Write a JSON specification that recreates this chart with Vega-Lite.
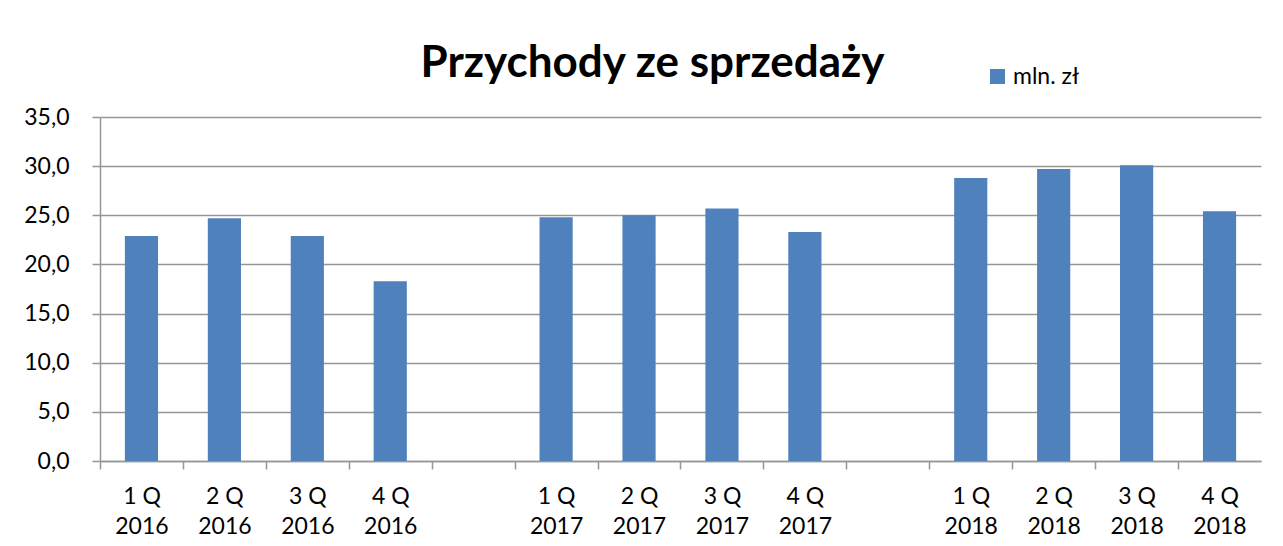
{
  "$schema": "https://vega.github.io/schema/vega-lite/v6.json",
  "width": 1161,
  "height": 344,
  "autosize": {"type": "none"},
  "padding": {"left": 100, "top": 117, "right": 22, "bottom": 85},
  "background": "white",
  "title": {
    "text": "Przychody ze sprzedaży",
    "font": "Lato",
    "fontSize": 44,
    "fontWeight": "bold",
    "color": "black",
    "anchor": "middle",
    "frame": "group",
    "dx": -28,
    "dy": 40,
    "offset": 19
  },
  "data": {
    "values": [
      {"q": "1 Q|2016", "v": 22.9},
      {"q": "2 Q|2016", "v": 24.7},
      {"q": "3 Q|2016", "v": 22.9},
      {"q": "4 Q|2016", "v": 18.3},
      {"q": "1 Q|2017", "v": 24.8},
      {"q": "2 Q|2017", "v": 25.0},
      {"q": "3 Q|2017", "v": 25.7},
      {"q": "4 Q|2017", "v": 23.3},
      {"q": "1 Q|2018", "v": 28.8},
      {"q": "2 Q|2018", "v": 29.7},
      {"q": "3 Q|2018", "v": 30.1},
      {"q": "4 Q|2018", "v": 25.4}
    ]
  },
  "mark": {"type": "bar", "width": {"band": 0.4}},
  "encoding": {
    "x": {
      "field": "q",
      "type": "nominal",
      "sort": null,
      "scale": {
        "domain": ["1 Q|2016", "2 Q|2016", "3 Q|2016", "4 Q|2016", "gap1", "1 Q|2017", "2 Q|2017", "3 Q|2017", "4 Q|2017", "gap2", "1 Q|2018", "2 Q|2018", "3 Q|2018", "4 Q|2018"],
        "paddingInner": 0,
        "paddingOuter": 0
      },
      "axis": {
        "title": null,
        "labelAngle": 0,
        "labelExpr": "indexof(datum.value, 'gap') == 0 ? '' : split(datum.value, '|')",
        "labelFont": "Lato",
        "labelFontSize": 23,
        "labelColor": "black",
        "labelLineHeight": 30,
        "labelBaseline": "top",
        "labelPadding": 16,
        "tickOffset": -41.5,
        "labelOffset": 41.5,
        "domainColor": "#969696",
        "domainWidth": 1.5,
        "tickSize": 8,
        "tickColor": "#969696",
        "tickWidth": 1.5,
        "grid": false
      }
    },
    "y": {
      "field": "v",
      "type": "quantitative",
      "scale": {"domain": [0, 35]},
      "axis": {
        "title": null,
        "values": [0, 5, 10, 15, 20, 25, 30, 35],
        "format": ".1f",
        "labelFont": "Lato",
        "labelFontSize": 23,
        "labelColor": "black",
        "labelPadding": 23,
        "domainColor": "#969696",
        "domainWidth": 1.5,
        "tickSize": 8,
        "tickColor": "#969696",
        "tickWidth": 1.5,
        "grid": true,
        "gridColor": "#969696",
        "gridWidth": 1.5
      }
    },
    "color": {
      "datum": "mln. zł",
      "type": "nominal",
      "scale": {"range": ["#4f81bd"]},
      "legend": {
        "title": null,
        "orient": "none",
        "legendX": 886,
        "legendY": -52,
        "symbolType": "square",
        "symbolSize": 225,
        "labelFont": "Lato",
        "labelFontSize": 23,
        "labelColor": "black"
      }
    }
  },
  "config": {
    "view": {"stroke": null},
    "locale": {
      "number": {"decimal": ",", "thousands": " ", "grouping": [3], "currency": ["", " zł"]}
    }
  }
}
